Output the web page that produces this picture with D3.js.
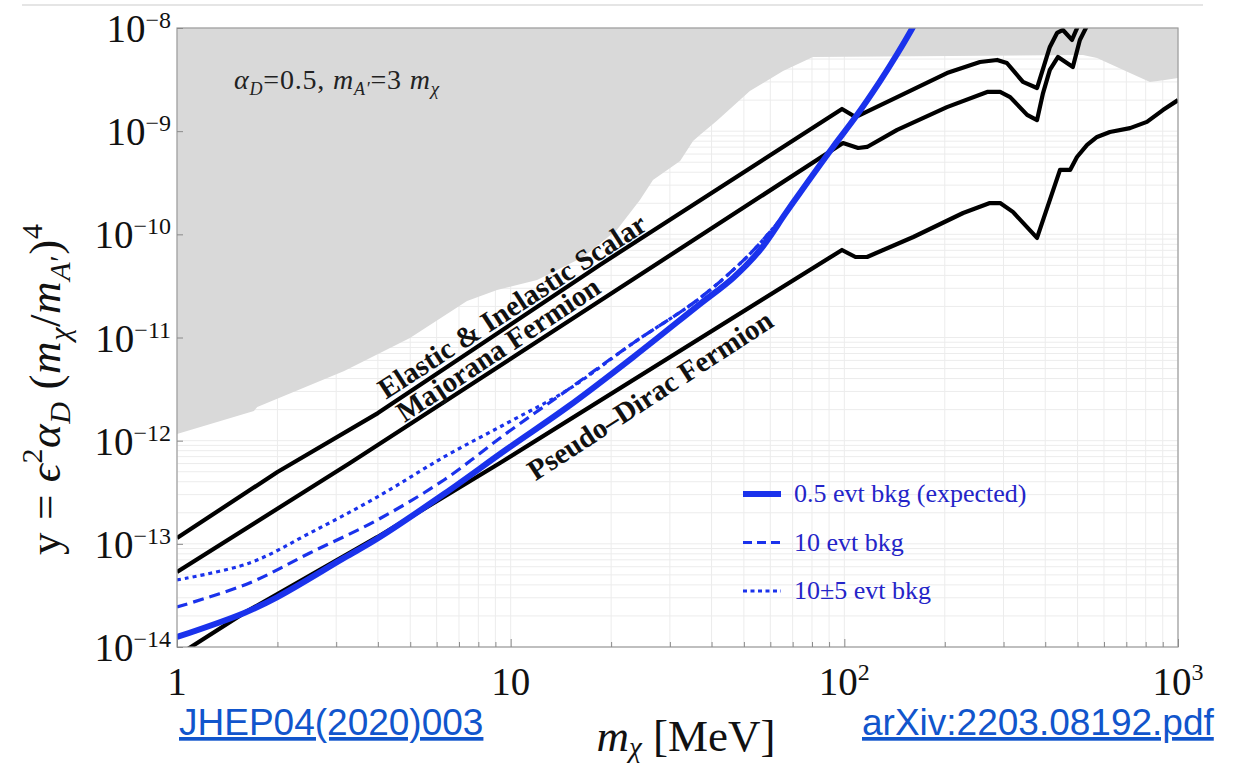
<!DOCTYPE html>
<html>
<head>
<meta charset="utf-8">
<script src="https://cdn.jsdelivr.net/npm/d3@7"></script>
<style>
  body { margin: 0; background: #fff; }
  svg { display: block; }
</style>
</head>
<body>
<svg id="chart" width="1241" height="768"></svg>
<script>
// ---- data: dark-matter mass m_chi [MeV] vs. y = eps^2 alpha_D (m_chi/m_A')^4 ----
const massTicks = [1, 10, 100, 1000];
const massTickExponents = ["", "", "2", "3"];
const yTicks = [1e-14, 1e-13, 1e-12, 1e-11, 1e-10, 1e-9, 1e-8];
const yTickExponents = ["\u221214", "\u221213", "\u221212", "\u221211", "\u221210", "\u22129", "\u22128"];

// lower edge of the region already excluded by existing experiments
const excludedBoundary = [
  [1, 1.16e-12], [1.70, 1.94e-12], [1.74, 2.12e-12], [1.86, 2.32e-12], [3.17, 4.73e-12],
  [4.99, 9.89e-12], [7.40, 2.26e-11], [9.10, 2.88e-11], [12.0, 3.61e-11], [16.5, 6.03e-11],
  [20.8, 1.10e-10], [24.4, 2.15e-10], [26.7, 3.37e-10], [32.2, 5.14e-10], [35.2, 8.04e-10],
  [36.9, 9.18e-10], [41.5, 1.26e-9], [52.1, 2.45e-9], [65.5, 3.83e-9], [80.5, 5.24e-9],
  [519, 5.47e-9], [572, 5.12e-9], [718, 3.66e-9], [824, 3.0e-9], [914, 3.13e-9], [1000, 3.27e-9]
];

// relic-density targets
const scalarTarget = [
  [1, 1.14e-13], [2.0, 4.97e-13], [4.0, 1.85e-12], [18.5, 5.05e-11], [98.4, 1.64e-9],
  [108, 1.37e-9], [144, 2.14e-9], [203, 3.66e-9], [255, 4.68e-9], [287, 4.90e-9],
  [307, 4.58e-9], [343, 3.0e-9], [378, 2.62e-9], [413, 6.55e-9], [434, 8.95e-9],
  [452, 9.57e-9], [481, 7.66e-9], [508, 1.15e-8]
];
const majoranaTarget = [
  [1, 5.33e-14], [3.30, 6.08e-13], [99.1, 7.67e-10], [110, 6.87e-10], [117, 7.03e-10],
  [144, 1.03e-9], [203, 1.71e-9], [268, 2.40e-9], [293, 2.40e-9], [314, 2.14e-9],
  [353, 1.44e-9], [378, 1.28e-9], [394, 2.34e-9], [413, 3.92e-9], [437, 5.24e-9],
  [484, 4.19e-9], [508, 7.66e-9], [545, 1.2e-8]
];
const pseudoDiracTarget = [
  [1, 8.2e-15], [1.59, 2.14e-14], [3.98, 1.16e-13], [9.29, 6.08e-13], [98.4, 7.05e-11],
  [108, 6.03e-11], [117, 6.03e-11], [161, 9.42e-11], [227, 1.61e-10], [273, 2.01e-10],
  [293, 2.01e-10], [320, 1.65e-10], [378, 9.23e-11], [443, 4.21e-10], [475, 4.21e-10],
  [498, 5.62e-10], [534, 7.35e-10], [572, 8.79e-10], [625, 9.82e-10], [718, 1.07e-9],
  [807, 1.23e-9], [901, 1.60e-9], [1000, 2.0e-9]
];

// projected sensitivities for three background assumptions
const sens05 = [
  [1, 1.25e-14], [1.59, 2.14e-14], [2.0, 3.05e-14], [3.17, 7.3e-14], [3.98, 1.12e-13],
  [6.31, 3.04e-13], [9.75, 8.30e-13], [14.8, 2.12e-12], [23.3, 6.47e-12], [36.9, 2.11e-11],
  [46.4, 3.78e-11], [55.9, 7.05e-11], [66.4, 1.57e-10], [73.6, 2.52e-10], [92.5, 7.03e-10],
  [108, 1.37e-9], [128, 3.06e-9], [144, 5.6e-9], [160, 1.0e-8], [166, 1.25e-8]
];
const sens10 = [
  [1, 2.44e-14], [1.65, 4.18e-14], [2.5, 8.15e-14], [3.98, 1.70e-13], [6.31, 4.16e-13],
  [9.75, 1.19e-12], [14.8, 3.10e-12], [23.3, 8.85e-12], [36.9, 2.41e-11], [52.1, 6.46e-11],
  [66.4, 1.57e-10]
];
const sens10pm5 = [
  [1, 4.47e-14], [1.65, 6.52e-14], [2.5, 1.27e-13], [3.98, 2.84e-13], [6.31, 6.95e-13],
  [9.75, 1.48e-12], [14.8, 3.10e-12], [23.3, 8.85e-12], [36.9, 2.41e-11], [52.1, 6.46e-11],
  [66.4, 1.57e-10]
];
const legendLabels = ["0.5 evt bkg (expected)", "10 evt bkg", "10\u00b15 evt bkg"];

// ---- drawing ----
const svg = d3.select("#chart");
const plot = { left: 177, right: 1178, top: 28, bottom: 647 };
const x = d3.scaleLog().domain([1, 1000]).range([plot.left, plot.right]);
const y = d3.scaleLog().domain([1e-14, 1e-8]).range([plot.bottom, plot.top]);
const serif = "'Liberation Serif', 'Times New Roman', serif";
const sans = "'Liberation Sans', Arial, sans-serif";
const blue = "#1a32ec";

// thin rule across the top of the page
svg.append("line").attr("x1", 22).attr("x2", 1203).attr("y1", 5).attr("y2", 5)
  .attr("stroke", "#dcdcdc").attr("stroke-width", 1.5);

svg.append("defs").append("clipPath").attr("id", "plotClip")
  .append("rect").attr("x", plot.left).attr("y", plot.top)
  .attr("width", plot.right - plot.left).attr("height", plot.bottom - plot.top);

// decade sub-divisions for grid and minor ticks
const xMinor = [];
for (let k = 0; k < 3; k++) for (let d = 2; d <= 9; d++) xMinor.push(d * Math.pow(10, k));
const yMinor = [];
for (let e = -14; e < -8; e++) for (let d = 2; d <= 9; d++) yMinor.push(+(d + "e" + e));

const grid = svg.append("g").attr("stroke", "#ececec").attr("stroke-width", 1);
grid.selectAll(".gx").data(xMinor.concat(massTicks)).join("line")
  .attr("x1", d => x(d)).attr("x2", d => x(d)).attr("y1", plot.top).attr("y2", plot.bottom);
grid.selectAll(".gy").data(yMinor.concat(yTicks)).join("line")
  .attr("y1", d => y(d)).attr("y2", d => y(d)).attr("x1", plot.left).attr("x2", plot.right);

// excluded region
svg.append("path").datum(excludedBoundary)
  .attr("fill", "#d9d9d9")
  .attr("d", d3.area().x(d => x(d[0])).y0(plot.top).y1(d => y(d[1])));

const body = svg.append("g").attr("clip-path", "url(#plotClip)");
const line = d3.line().x(d => x(d[0])).y(d => y(d[1]));
const smooth = d3.line().x(d => x(d[0])).y(d => y(d[1])).curve(d3.curveCatmullRom.alpha(0.5));

[scalarTarget, majoranaTarget, pseudoDiracTarget].forEach(c => {
  body.append("path").datum(c).attr("d", line)
    .attr("fill", "none").attr("stroke", "#000").attr("stroke-width", 4.2)
    .attr("stroke-linejoin", "round");
});

body.append("path").datum(sens10pm5).attr("d", smooth)
  .attr("fill", "none").attr("stroke", blue).attr("stroke-width", 3.2)
  .attr("stroke-dasharray", "4,4");
body.append("path").datum(sens10).attr("d", smooth)
  .attr("fill", "none").attr("stroke", blue).attr("stroke-width", 3.2)
  .attr("stroke-dasharray", "11,6");
body.append("path").datum(sens05).attr("d", smooth)
  .attr("fill", "none").attr("stroke", blue).attr("stroke-width", 6)
  .attr("stroke-linecap", "round");

// frame
svg.append("rect").attr("x", plot.left).attr("y", plot.top)
  .attr("width", plot.right - plot.left).attr("height", plot.bottom - plot.top)
  .attr("fill", "none").attr("stroke", "#9c9c9c").attr("stroke-width", 1.2);

// axes: ticks point into the plot
function styleAxis(g) {
  g.select(".domain").remove();
  g.selectAll(".tick line").attr("stroke", "#8a8a8a");
}
svg.append("g").attr("transform", `translate(0,${plot.bottom})`)
  .call(d3.axisBottom(x).tickValues(massTicks).tickSize(-8).tickFormat(""))
  .call(styleAxis);
svg.append("g").attr("transform", `translate(0,${plot.bottom})`)
  .call(d3.axisBottom(x).tickValues(xMinor).tickSize(-5).tickFormat(""))
  .call(styleAxis);
svg.append("g").attr("transform", `translate(${plot.left},0)`)
  .call(d3.axisLeft(y).tickValues(yTicks).tickSize(-6).tickFormat(""))
  .call(styleAxis);

// tick labels
const yLab = svg.append("g").attr("font-family", serif).attr("fill", "#111");
yTicks.forEach((v, i) => {
  const t = yLab.append("text").attr("x", plot.left - 6).attr("y", y(v) + 14)
    .attr("text-anchor", "end").attr("font-size", 39);
  t.append("tspan").text("10");
  t.append("tspan").attr("font-size", 24).attr("dy", -14).text(yTickExponents[i]);
});
const xLab = svg.append("g").attr("font-family", serif).attr("fill", "#111");
massTicks.forEach((v, i) => {
  const t = xLab.append("text").attr("x", x(v)).attr("y", 695)
    .attr("text-anchor", "middle").attr("font-size", 39);
  t.append("tspan").text(v === 1 ? "1" : "10");
  if (massTickExponents[i]) t.append("tspan").attr("font-size", 24).attr("dy", -15).text(massTickExponents[i]);
});

// axis titles
const xt = svg.append("text").attr("x", 686).attr("y", 751).attr("text-anchor", "middle")
  .attr("font-family", serif).attr("font-size", 45).attr("fill", "#111");
xt.append("tspan").attr("font-style", "italic").text("m");
xt.append("tspan").attr("font-style", "italic").attr("font-size", 29).attr("dy", 6).text("\u03c7");
xt.append("tspan").attr("dy", -6).text(" [MeV]");

const yt = svg.append("text").attr("transform", "translate(60,555) rotate(-90)")
  .attr("text-anchor", "start").attr("font-family", serif).attr("font-size", 45)
  .attr("letter-spacing", 0.6).attr("fill", "#111");
yt.append("tspan").text("y = ");
yt.append("tspan").attr("font-style", "italic").text("\u03f5");
yt.append("tspan").attr("font-size", 30).attr("dy", -18).text("2");
yt.append("tspan").attr("font-style", "italic").attr("dy", 18).text("\u03b1");
yt.append("tspan").attr("font-style", "italic").attr("font-size", 30).attr("dy", 10).text("D");
yt.append("tspan").attr("dy", -10).text(" (");
yt.append("tspan").attr("font-style", "italic").text("m");
yt.append("tspan").attr("font-style", "italic").attr("font-size", 30).attr("dy", 10).text("\u03c7");
yt.append("tspan").attr("dy", -10).text("/");
yt.append("tspan").attr("font-style", "italic").text("m");
yt.append("tspan").attr("font-style", "italic").attr("font-size", 30).attr("dy", 10).text("A");
yt.append("tspan").attr("font-size", 30).text("\u2032");
yt.append("tspan").attr("dy", -10).text(")");
yt.append("tspan").attr("font-size", 30).attr("dy", -18).text("4");

// benchmark parameters
const ann = svg.append("text").attr("x", 234).attr("y", 89)
  .attr("font-family", serif).attr("font-size", 28).attr("letter-spacing", 0.8).attr("fill", "#222");
ann.append("tspan").attr("font-style", "italic").text("\u03b1");
ann.append("tspan").attr("font-style", "italic").attr("font-size", 18).attr("dy", 6).text("D");
ann.append("tspan").attr("dy", -6).text("=0.5, ");
ann.append("tspan").attr("font-style", "italic").text("m");
ann.append("tspan").attr("font-style", "italic").attr("font-size", 18).attr("dy", 6).text("A\u2032");
ann.append("tspan").attr("dy", -6).text("=3 ");
ann.append("tspan").attr("font-style", "italic").text("m");
ann.append("tspan").attr("font-style", "italic").attr("font-size", 19).attr("dy", 6).text("\u03c7");

// curve labels
[
  { text: "Elastic & Inelastic Scalar", cx: 512, cy: 306, a: -33 },
  { text: "Majorana Fermion", cx: 498, cy: 349, a: -33.5 },
  { text: "Pseudo\u2013Dirac Fermion", cx: 650, cy: 395, a: -33 }
].forEach(l => {
  svg.append("text").attr("transform", `translate(${l.cx},${l.cy}) rotate(${l.a})`)
    .attr("y", 10).attr("text-anchor", "middle")
    .attr("font-family", serif).attr("font-weight", "bold").attr("font-size", 29)
    .attr("fill", "#111").text(l.text);
});

// legend
const legend = svg.append("g").attr("font-family", serif).attr("font-size", 26).attr("fill", "#2424c8");
const legendStyles = [
  { w: 6, dash: null }, { w: 3, dash: "9,5" }, { w: 3, dash: "4,3.5" }
];
legendLabels.forEach((lab, i) => {
  const ly = 494 + i * 48.5;
  legend.append("line").attr("x1", 743).attr("x2", 781).attr("y1", ly).attr("y2", ly)
    .attr("stroke", blue).attr("stroke-width", legendStyles[i].w)
    .attr("stroke-dasharray", legendStyles[i].dash);
  legend.append("text").attr("x", 794).attr("y", ly + 8).text(lab);
});

// references
[
  { text: "JHEP04(2020)003", x: 179 },
  { text: "arXiv:2203.08192.pdf", x: 862 }
].forEach(r => {
  svg.append("text").attr("x", r.x).attr("y", 735)
    .attr("font-family", sans).attr("font-size", 37).attr("fill", "#1155cc")
    .attr("text-decoration", "underline").text(r.text);
});
</script>
</body>
</html>
